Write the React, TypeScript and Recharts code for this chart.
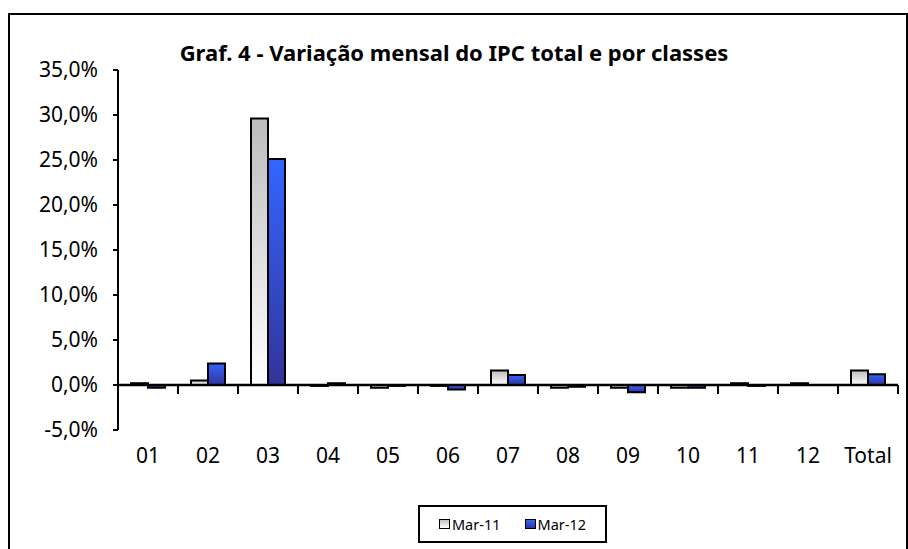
import { BarChart, Bar, XAxis, YAxis, ReferenceLine, Legend } from 'recharts';

// classes do IPC
const categories = ['01', '02', '03', '04', '05', '06', '07', '08', '09', '10', '11', '12', 'Total'];
// variação mensal (%)
const mar11 = [0.2, 0.5, 29.6, -0.1, -0.3, -0.1, 1.6, -0.3, -0.3, -0.3, 0.2, 0.2, 1.6];
const mar12 = [-0.3, 2.4, 25.1, 0.2, -0.1, -0.5, 1.1, -0.2, -0.8, -0.3, -0.1, 0.0, 1.2];
const yTicks = [-5, 0, 5, 10, 15, 20, 25, 30, 35];
const seriesNames = ['Mar-11', 'Mar-12'];

const data = categories.map((c, i) => ({ cat: c, a: mar11[i], b: mar12[i] }));

const FONT = '"Noto Sans", "DejaVu Sans", sans-serif';
const fmt = (v: number) => v.toFixed(1).replace('.', ',') + '%';

const ZeroAxis = (props: any) => {
  const { x1, x2, y1 } = props;
  const step = (x2 - x1) / categories.length;
  return (
    <g>
      <line x1={x1} y1={y1} x2={x2} y2={y1} stroke="#000" strokeWidth={2.5} />
      {categories.map((_, i) => (
        <line
          key={i}
          x1={x1 + (i + 1) * step}
          x2={x1 + (i + 1) * step}
          y1={y1}
          y2={y1 + 9}
          stroke="#000"
          strokeWidth={2}
        />
      ))}
    </g>
  );
};

const XTick = ({ x, y, payload }: any) => (
  <text x={x} y={y} dy="0.71em" textAnchor="middle" fontSize={21} fontFamily={FONT} fill="#000">
    {payload.value}
  </text>
);

const LegendBox = () => (
  <div
    style={{
      boxSizing: 'border-box',
      width: 189,
      height: 38,
      border: '2px solid #000',
      display: 'flex',
      alignItems: 'center',
      justifyContent: 'center',
      gap: 24,
      fontFamily: FONT,
      fontSize: 14.5,
      background: '#fff',
    }}
  >
    {seriesNames.map((n, i) => (
      <span key={n} style={{ display: 'flex', alignItems: 'center' }}>
        <span
          style={{
            display: 'inline-block',
            boxSizing: 'border-box',
            width: 11,
            height: 10,
            border: '1.5px solid #000',
            background: i === 0 ? 'linear-gradient(#c0c0c0, #fff)' : 'linear-gradient(#3366ff, #333399)',
            marginRight: 2,
          }}
        />
        {n}
      </span>
    ))}
  </div>
);

export default function App() {
  return (
    <div style={{ position: 'fixed', left: 0, top: 0, width: 908, height: 549, background: '#fff', overflow: 'hidden' }}>
      <div
        style={{
          position: 'absolute',
          left: 8,
          top: 13,
          width: 896,
          height: 560,
          border: '2px solid #000',
        }}
      />
      <div
        style={{
          position: 'absolute',
          left: 0,
          top: 41,
          width: 908,
          textAlign: 'center',
          fontFamily: FONT,
          fontWeight: 'bold',
          fontSize: 22,
          lineHeight: '22px',
          color: '#000',
        }}
      >
        Graf. 4 - Variação mensal do IPC total e por classes
      </div>
      <div style={{ position: 'absolute', left: 0, top: 0 }}>
        <BarChart
          width={908}
          height={549}
          data={data}
          margin={{ top: 70, right: 10, bottom: 79, left: 0 }}
          barGap={0}
        >
          <defs>
            <linearGradient id="gGray" x1="0" y1="0" x2="0" y2="1">
              <stop offset="0%" stopColor="#bcbcbc" />
              <stop offset="100%" stopColor="#ffffff" />
            </linearGradient>
            <linearGradient id="gBlue" x1="0" y1="0" x2="0" y2="1">
              <stop offset="0%" stopColor="#3366ff" />
              <stop offset="100%" stopColor="#333399" />
            </linearGradient>
          </defs>
          <XAxis
            dataKey="cat"
            axisLine={false}
            tickLine={false}
            tickSize={0}
            tickMargin={18}
            height={40}
            tick={<XTick />}
            interval={0}
          />
          <YAxis
            width={118}
            domain={[-5, 35]}
            ticks={yTicks}
            tickFormatter={fmt}
            axisLine={{ stroke: '#000', strokeWidth: 2 }}
            tickLine={{ stroke: '#000', strokeWidth: 2 }}
            tickSize={5}
            tickMargin={15}
            tick={{ fontSize: 21, fontFamily: FONT, fill: '#000' }}
            allowDataOverflow
          />
          <Bar dataKey="a" name={seriesNames[0]} fill="url(#gGray)" stroke="#000" strokeWidth={2} barSize={17} isAnimationActive={false} />
          <Bar dataKey="b" name={seriesNames[1]} fill="url(#gBlue)" stroke="#000" strokeWidth={2} barSize={17} isAnimationActive={false} />
          <ReferenceLine y={0} shape={<ZeroAxis />} />
          <Legend
            layout="horizontal"
            verticalAlign="middle"
            align="center"
            content={<LegendBox />}
            wrapperStyle={{ top: 505, left: 418, width: 189, height: 38 }}
          />
        </BarChart>
      </div>
    </div>
  );
}
